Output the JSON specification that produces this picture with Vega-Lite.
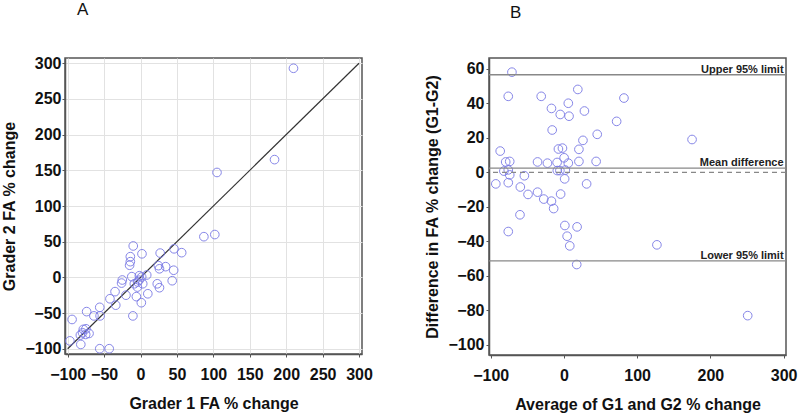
{
  "$schema": "https://vega.github.io/schema/vega-lite/v6.json",
  "padding": {"left": 1, "top": 0, "right": 0, "bottom": 0},
  "background": "white",
  "config": {
    "font": "Liberation Sans",
    "view": {"stroke": "#555", "strokeWidth": 1.5},
    "concat": {"spacing": 50},
    "axis": {
      "labelFont": "Liberation Sans",
      "labelFontSize": 16,
      "labelFontWeight": "bold",
      "labelColor": "#111",
      "titleFont": "Liberation Sans",
      "titleFontSize": 16,
      "titleFontWeight": "bold",
      "titleColor": "#111",
      "domainColor": "#555",
      "domainWidth": 1.5,
      "tickColor": "#555",
      "tickSize": 3,
      "tickCount": 30,
      "labelPadding": 1,
      "labelFlush": false,
      "labelOverlap": false
    },
    "axisX": {"titlePadding": 13, "labelPadding": 9},
    "axisY": {"titlePadding": 7},
    "title": {"font": "Liberation Sans", "fontSize": 17, "fontWeight": "normal", "color": "#111", "anchor": "start", "frame": "group"}
  },
  "datasets": {
    "gradersA": [
      {"g1": 210, "g2": 293}, {"g1": 184, "g2": 165}, {"g1": 105, "g2": 147}, {"g1": 87, "g2": 57},
      {"g1": 102, "g2": 60}, {"g1": -10, "g2": 44}, {"g1": 2, "g2": 33}, {"g1": -14, "g2": 29},
      {"g1": -14, "g2": 22}, {"g1": -15, "g2": 17}, {"g1": 27, "g2": 34}, {"g1": 46, "g2": 40},
      {"g1": 56.5, "g2": 34.6}, {"g1": 24.5, "g2": 16.4}, {"g1": 26, "g2": 12}, {"g1": 34.5, "g2": 15},
      {"g1": 45.5, "g2": 10}, {"g1": 43.5, "g2": -4.7}, {"g1": 23, "g2": -9}, {"g1": 26, "g2": -14.5},
      {"g1": 10, "g2": -23}, {"g1": 8.5, "g2": 3.3}, {"g1": -12, "g2": 1}, {"g1": -25, "g2": -3.7},
      {"g1": -26, "g2": -8}, {"g1": -35, "g2": -20}, {"g1": -42, "g2": -30}, {"g1": -34, "g2": -39},
      {"g1": -20, "g2": -25}, {"g1": -10.5, "g2": -54}, {"g1": -56, "g2": -42}, {"g1": -55.5, "g2": -54},
      {"g1": -64, "g2": -54}, {"g1": -74, "g2": -48}, {"g1": -94, "g2": -59}, {"g1": -97, "g2": -89},
      {"g1": -82, "g2": -94}, {"g1": -56, "g2": -100}, {"g1": -43, "g2": -100},
      {"g1": -78.6, "g2": -72.9}, {"g1": -74.9, "g2": -72.1}, {"g1": -82.6, "g2": -80.9}, {"g1": -75.3, "g2": -80},
      {"g1": -70.7, "g2": -78.6}, {"g1": -79.6, "g2": -77.7},
      {"g1": -1.6, "g2": 2.3}, {"g1": 1.6, "g2": 0.5}, {"g1": 3, "g2": -9}, {"g1": -4, "g2": -6.5},
      {"g1": -8.5, "g2": -9}, {"g1": -4.3, "g2": -13.6}, {"g1": -5.7, "g2": -27}, {"g1": 1.1, "g2": -35.5},
      {"g1": -2, "g2": -4}
    ],
    "blandB": [
      {"avg": -71, "diff": 58}, {"avg": -76, "diff": 44}, {"avg": -31, "diff": 44}, {"avg": 19, "diff": 48},
      {"avg": 6, "diff": 40}, {"avg": -17, "diff": 37}, {"avg": -5, "diff": 33.5}, {"avg": 7, "diff": 32.5},
      {"avg": 28, "diff": 35.5}, {"avg": 82, "diff": 43}, {"avg": 72, "diff": 29.5}, {"avg": 45.5, "diff": 22},
      {"avg": 26, "diff": 18.5}, {"avg": 175, "diff": 19}, {"avg": -16, "diff": 24.5}, {"avg": -7.5, "diff": 13.5},
      {"avg": -2, "diff": 14}, {"avg": 20.5, "diff": 13.3}, {"avg": -87, "diff": 12.3}, {"avg": -79.5, "diff": 6},
      {"avg": -74, "diff": 6.3}, {"avg": -36, "diff": 6}, {"avg": -22.5, "diff": 5.3}, {"avg": -9.3, "diff": 5.7},
      {"avg": 0.3, "diff": 8.4}, {"avg": 6, "diff": 5.3}, {"avg": 20.5, "diff": 6.3}, {"avg": 44, "diff": 6.3},
      {"avg": -82, "diff": 0.7}, {"avg": -76, "diff": 1.4}, {"avg": -74, "diff": -1.5}, {"avg": -76, "diff": -6},
      {"avg": -93, "diff": -6.7}, {"avg": -54, "diff": -2}, {"avg": -59.5, "diff": -8.5}, {"avg": -49, "diff": -12.8},
      {"avg": -36, "diff": -11.5}, {"avg": -27.5, "diff": -15.5}, {"avg": -17, "diff": -16.7}, {"avg": -14, "diff": -21},
      {"avg": -4.5, "diff": -12.6}, {"avg": 1, "diff": -3.8}, {"avg": 31, "diff": -6.7}, {"avg": -60, "diff": -24.6},
      {"avg": -76, "diff": -34.3}, {"avg": 1.3, "diff": -30.8}, {"avg": 18, "diff": -31.6}, {"avg": 4.4, "diff": -37},
      {"avg": 8, "diff": -42.6}, {"avg": 17.5, "diff": -53.4}, {"avg": -9, "diff": 1}, {"avg": -5.5, "diff": 1},
      {"avg": 2, "diff": 1.3}, {"avg": 127, "diff": -42}, {"avg": 251, "diff": -83}
    ],
    "identity": [{"x": -100, "y": -100, "x2": 300, "y2": 300}],
    "limits": [
      {"value": 56.5, "label": "Upper 95% limit"},
      {"value": 2.4, "label": "Mean difference"},
      {"value": -51.3, "label": "Lower 95% limit"}
    ]
  },
  "hconcat": [
    {
      "width": 297,
      "height": 296,
      "title": {"text": "A", "offset": 36, "dx": 12},
      "layer": [
        {
          "data": {"name": "identity"},
          "mark": {"type": "rule", "color": "#333", "strokeWidth": 1.2},
          "encoding": {
            "x": {"field": "x", "type": "quantitative", "scale": {"domain": [-103.7, 304.1], "nice": false, "zero": false},
              "axis": {"values": [-100, -50, 0, 50, 100, 150, 200, 250, 300], "tickCount": 30, "labelOverlap": false, "grid": true, "gridColor": "#e2e2e2", "title": "Grader 1 FA % change"}},
            "y": {"field": "y", "type": "quantitative", "scale": {"domain": [-107.4, 307.4], "nice": false, "zero": false},
              "axis": {"values": [-100, -50, 0, 50, 100, 150, 200, 250, 300], "tickCount": 30, "labelOverlap": false, "grid": true, "gridColor": "#e2e2e2", "title": "Grader 2 FA % change"}},
            "x2": {"field": "x2"},
            "y2": {"field": "y2"}
          }
        },
        {
          "data": {"name": "gradersA"},
          "mark": {"type": "point", "shape": "circle", "filled": false, "size": 75, "stroke": "#7a7ae6", "strokeWidth": 1, "opacity": 0.9},
          "encoding": {
            "x": {"field": "g1", "type": "quantitative"},
            "y": {"field": "g2", "type": "quantitative"}
          }
        }
      ]
    },
    {
      "width": 297,
      "height": 297,
      "title": {"text": "B", "offset": 36, "dx": 21},
      "layer": [
        {
          "data": {"name": "blandB"},
          "mark": {"type": "point", "shape": "circle", "filled": false, "size": 75, "stroke": "#7a7ae6", "strokeWidth": 1, "opacity": 0.9},
          "encoding": {
            "x": {"field": "avg", "type": "quantitative", "scale": {"domain": [-102.3, 303.3], "nice": false, "zero": false},
              "axis": {"values": [-100, 0, 100, 200, 300], "tickCount": 30, "labelOverlap": false, "grid": false, "title": "Average of G1 and G2 % change"}},
            "y": {"field": "diff", "type": "quantitative", "scale": {"domain": [-105.8, 66.2], "nice": false, "zero": false},
              "axis": {"values": [-100, -80, -60, -40, -20, 0, 20, 40, 60], "tickCount": 30, "labelOverlap": false, "grid": false, "title": "Difference in FA % change (G1-G2)", "labelPadding": 2}}
          }
        },
        {
          "data": {"name": "limits"},
          "mark": {"type": "rule", "color": "#888", "strokeWidth": 1.3},
          "encoding": {"y": {"field": "value", "type": "quantitative"}}
        },
        {
          "data": {"values": [{"value": 0}]},
          "mark": {"type": "rule", "color": "#888", "strokeWidth": 1.3, "strokeDash": [5, 4]},
          "encoding": {"y": {"field": "value", "type": "quantitative"}}
        },
        {
          "data": {"name": "limits"},
          "mark": {"type": "text", "align": "right", "baseline": "alphabetic", "dy": -2, "fontSize": 11, "fontWeight": "bold", "color": "#222", "font": "Liberation Sans"},
          "encoding": {
            "y": {"field": "value", "type": "quantitative"},
            "x": {"datum": 300},
            "text": {"field": "label"}
          }
        }
      ]
    }
  ]
}
